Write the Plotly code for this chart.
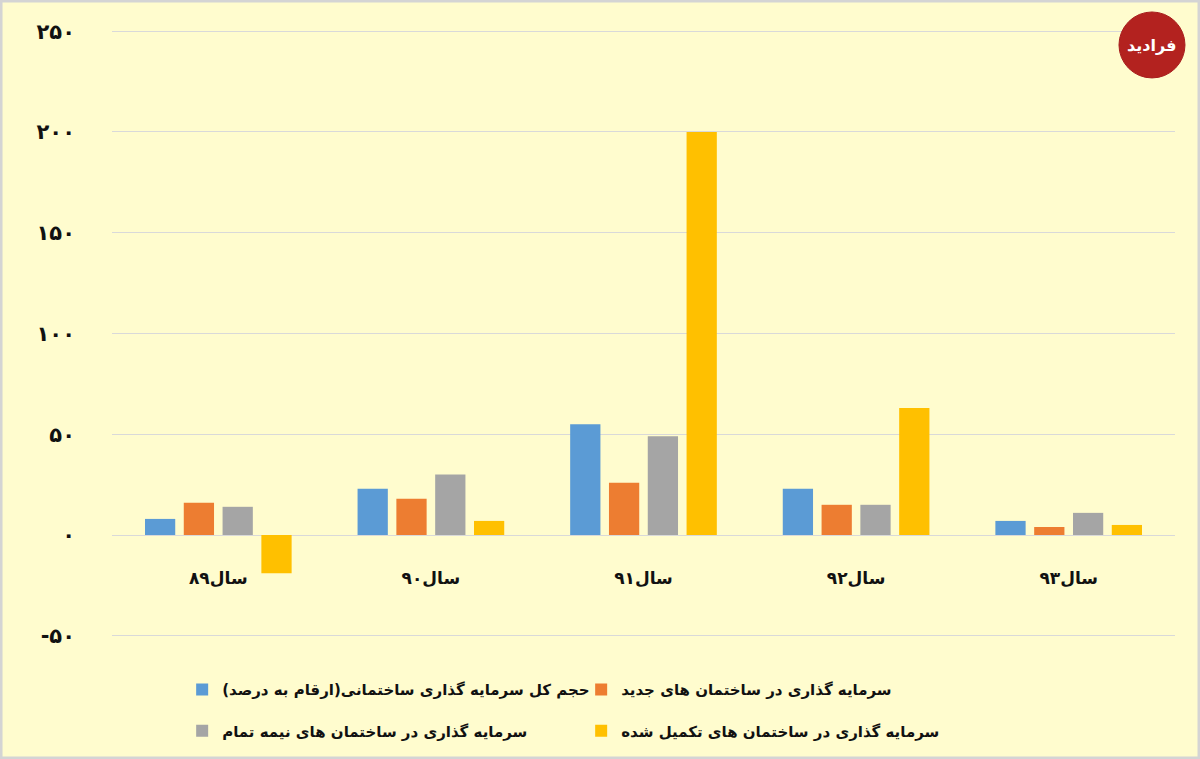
import plotly.graph_objects as go

years = ["سال۸۹", "سال۹۰", "سال۹۱", "سال۹۲", "سال۹۳"]

total_invest = [8, 23, 55, 23, 7]
new_buildings = [16, 18, 26, 15, 4]
half_finished = [14, 30, 49, 15, 11]
completed = [-19, 7, 200, 63, 5]

series_names = [
    "حجم کل سرمایه گذاری ساختمانی(ارقام به درصد)\u200f",
    "سرمایه گذاری در ساختمان های جدید",
    "سرمایه گذاری در ساختمان های نیمه تمام",
    "سرمایه گذاری در ساختمان های تکمیل شده",
]
series_colors = ["#5B9BD5", "#ED7D31", "#A5A5A5", "#FFC000"]

y_ticks = [-50, 0, 50, 100, 150, 200, 250]
y_ticktext = ["-۵۰", "۰", "۵۰", "۱۰۰", "۱۵۰", "۲۰۰", "۲۵۰"]
y_range = [-50.6, 250.6]

FONT = "DejaVu Sans"
BG = "#FFFCCE"

fig = go.Figure()
all_series = [total_invest, new_buildings, half_finished, completed]
for i, (name, vals, col) in enumerate(zip(series_names, all_series, series_colors)):
    fig.add_trace(go.Bar(
        x=years, y=vals, name=name, marker_color=col,
        marker_line_width=0,
        legend="legend" if i < 2 else "legend2",
    ))

legend_common = dict(
    orientation="h", xanchor="left", yanchor="middle", x=0.066,
    entrywidth=354, bgcolor="rgba(0,0,0,0)",
    font=dict(family=FONT, size=15, color="#111111", weight="bold"),
)

fig.update_layout(
    width=1200, height=759,
    paper_bgcolor=BG, plot_bgcolor=BG,
    margin=dict(l=112, r=25, t=30, b=122, autoexpand=False),
    barmode="group", bargap=0.27, bargroupgap=0.22,
    showlegend=True,
    legend=dict(y=-0.087, **legend_common),
    legend2=dict(y=-0.155, **legend_common),
    xaxis=dict(
        type="category", anchor="free",
        position=(0 - y_range[0]) / (y_range[1] - y_range[0]),
        showline=False, showgrid=False, ticks="",
        ticklabelstandoff=31,
        tickfont=dict(family=FONT, size=17, color="#111111", weight="bold"),
    ),
    yaxis=dict(
        range=y_range, tickvals=y_ticks, ticktext=y_ticktext,
        showgrid=True, gridcolor="#D9D9D9", gridwidth=1,
        zeroline=True, zerolinecolor="#D9D9D9", zerolinewidth=1,
        showline=False, ticks="", ticklabelstandoff=36,
        tickfont=dict(family=FONT, size=21, color="#111111", weight="bold"),
    ),
    shapes=[
        # outer frame
        dict(type="rect", xref="paper", yref="paper",
             x0=-0.1044, x1=1.0226, y0=-0.1993, y1=1.0478,
             line=dict(color="#D4D4D4", width=3), fillcolor="rgba(0,0,0,0)"),
        # logo disc
        dict(type="circle", xref="paper", yref="paper",
             x0=0.9473, x1=1.0094, y0=0.921, y1=1.0297,
             line=dict(color="#A81E1E", width=1), fillcolor="#B3221F"),
    ],
    annotations=[
        dict(text="فرادید", xref="paper", yref="paper", x=0.9783, y=0.975,
             xanchor="center", yanchor="middle", showarrow=False,
             font=dict(family=FONT, size=16, color="white", weight="bold")),
    ],
)

# drop the browser's default 8px body margin so the figure fills the window
fig.write_html("out.html", config={"displayModeBar": False},
               post_script="document.body.style.margin='0';")
